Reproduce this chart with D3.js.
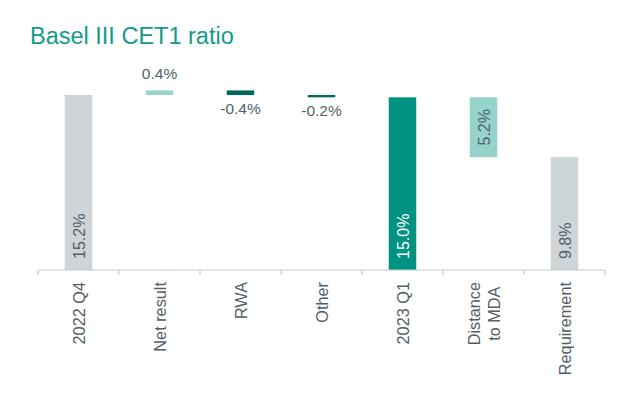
<!DOCTYPE html>
<html><head><meta charset="utf-8">
<script src="https://cdn.jsdelivr.net/npm/d3@7"></script>
<style>html,body{margin:0;padding:0;background:#fff}</style>
</head><body><div id="chart"></div>
<script>
const categories = ["2022 Q4", "Net result", "RWA", "Other", "2023 Q1", "Distance\nto MDA", "Requirement"];
const values = [15.2, 0.4, -0.4, -0.2, 15.0, 5.2, 9.8];
const kinds = ["total", "delta", "delta", "delta", "total", "gap", "total"];
const valueLabels = ["15.2%", "0.4%", "-0.4%", "-0.2%", "15.0%", "5.2%", "9.8%"];
const colors = ["#cdd5d8", "#95d3cb", "#006a5d", "#006a5d", "#009382", "#95d3cb", "#cdd5d8"];

const W = 640, H = 403;
const svg = d3.select("#chart").append("svg").attr("width", W).attr("height", H)
  .style("font-family", "'Liberation Sans', Arial, sans-serif");

svg.append("text").attr("x", 30).attr("y", 44).attr("fill", "#139a8b")
  .style("font-size", "23.5px").text("Basel III CET1 ratio");

const x = d3.scaleBand().domain(categories).range([38, 605]).padding(0);
const y = d3.scaleLinear().domain([0, 17]).range([270, 74.3]);
const bw = 27.5;

let running = 0;
const bars = categories.map((c, i) => {
  let lo, hi;
  if (kinds[i] === "total") { lo = 0; hi = values[i]; running = values[i]; }
  else if (kinds[i] === "delta") { const s = running; running += values[i]; lo = Math.min(s, running); hi = Math.max(s, running); }
  else { lo = running - values[i]; hi = running; }
  return {c, i, lo, hi, v: values[i], kind: kinds[i]};
});

const g = svg.append("g");
g.selectAll("rect").data(bars).enter().append("rect")
  .attr("x", d => x(d.c) + x.bandwidth() / 2 - bw / 2)
  .attr("width", bw)
  .attr("y", d => y(d.hi))
  .attr("height", d => y(d.lo) - y(d.hi))
  .attr("fill", (d, i) => colors[i]);

const axis = svg.append("g").attr("transform", "translate(0,270)");
axis.append("line").attr("x1", 38).attr("x2", 605).attr("y1", 0).attr("y2", 0)
  .attr("stroke", "#c6ccd0").attr("stroke-width", 1.2);
const edges = categories.map(c => x(c)).concat([x.range()[1]]);
axis.selectAll("line.tick").data(edges).enter().append("line").attr("class", "tick")
  .attr("x1", d => d).attr("x2", d => d).attr("y1", 0).attr("y2", 5)
  .attr("stroke", "#c6ccd0").attr("stroke-width", 1.2);

categories.forEach((c, i) => {
  const lines = c.split("\n");
  const cx = x(c) + x.bandwidth() / 2;
  const t = svg.append("text").attr("fill", "#535f69").style("font-size", "16.3px")
    .attr("text-anchor", "middle");
  lines.forEach((ln, k) => {
    t.append("tspan").attr("x", 0).attr("dy", k === 0 ? 0 : 20).text(ln);
  });
  const maxLen = d3.max(t.selectAll("tspan").nodes(), n => n.getComputedTextLength());
  const nl = lines.length;
  const off = 6 - (nl - 1) * 10;
  t.attr("transform", `translate(${cx + off},${282 + maxLen / 2}) rotate(-90)`);
});

bars.forEach(d => {
  const cx = x(d.c) + x.bandwidth() / 2;
  if (d.kind === "delta") {
    const t = svg.append("text").attr("fill", "#535f69").style("font-size", "15.5px")
      .attr("text-anchor", "middle").attr("x", cx).text(valueLabels[d.i]);
    if (d.v >= 0) t.attr("y", y(d.hi) - 11);
    else t.attr("y", y(d.lo) + 19);
  } else if (d.kind === "total") {
    const col = d.i === 4 ? "#ffffff" : "#535f69";
    svg.append("text").attr("fill", col).style("font-size", "16px")
      .attr("transform", `translate(${cx + 6},${y(0) - 11}) rotate(-90)`)
      .text(valueLabels[d.i]);
  } else {
    svg.append("text").attr("fill", "#535f69").style("font-size", "16px")
      .attr("text-anchor", "middle")
      .attr("transform", `translate(${cx + 6},${(y(d.lo) + y(d.hi)) / 2}) rotate(-90)`)
      .text(valueLabels[d.i]);
  }
});
</script></body></html>
